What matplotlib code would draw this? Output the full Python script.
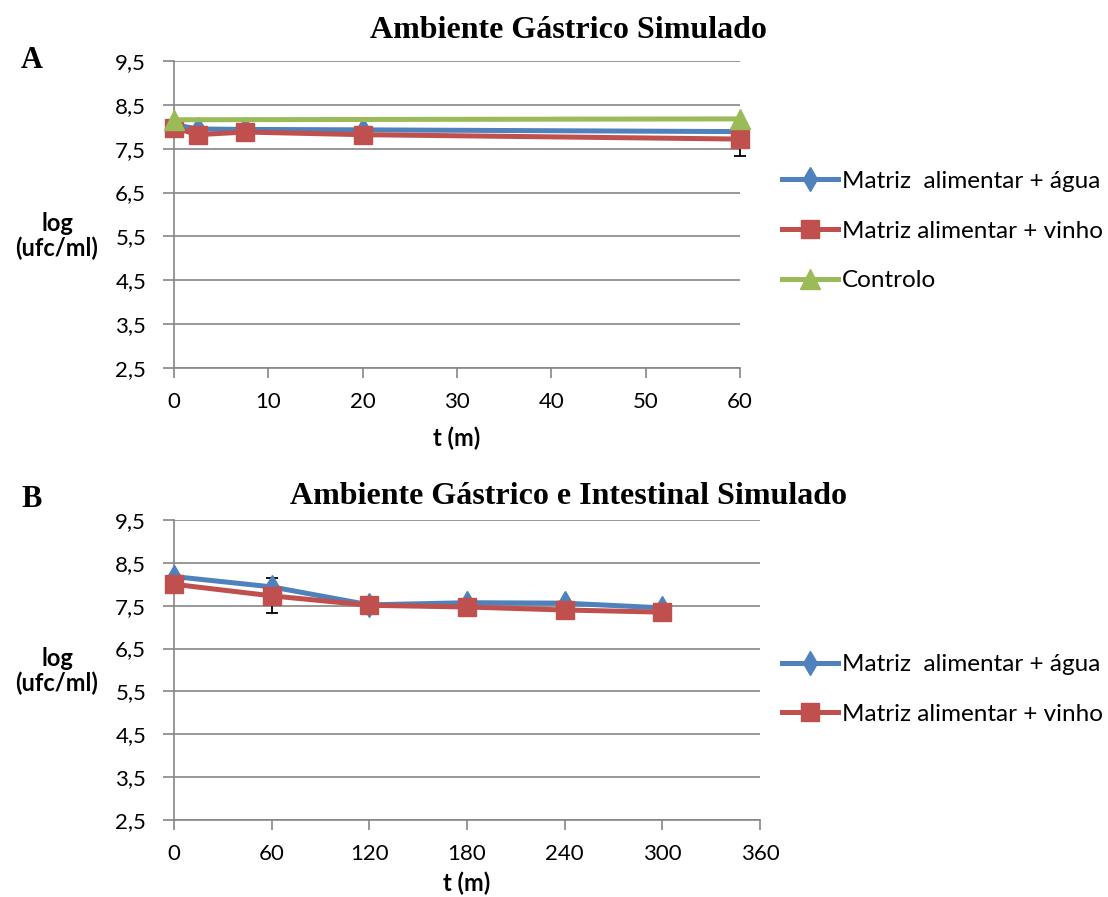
import numpy as np
import matplotlib.pyplot as plt
from matplotlib.lines import Line2D

plt.rcParams['font.family'] = ['Lato', 'DejaVu Sans']

# Painel A - ambiente gastrico
t_a = [0, 2.5, 7.5, 20, 60]
agua_a = [8.05, 7.95, 7.94, 7.93, 7.89]
vinho_a = [7.98, 7.82, 7.88, 7.82, 7.72]
vinho_a_err = [0, 0, 0, 0, 0.38]
t_ctrl = [0, 60]
controlo_a = [8.16, 8.18]

# Painel B - ambiente gastrico e intestinal
t_b = [0, 60, 120, 180, 240, 300]
agua_b = [8.18, 7.94, 7.52, 7.57, 7.56, 7.45]
vinho_b = [8.00, 7.73, 7.51, 7.47, 7.40, 7.35]
vinho_b_err = [0, 0.41, 0, 0, 0, 0]

yticks = [2.5, 3.5, 4.5, 5.5, 6.5, 7.5, 8.5, 9.5]

azul = '#4F81BD'
vermelho = '#C0504D'
verde = '#9BBB59'
cinza = '#868686'

W, H = 1108, 897
fig = plt.figure(figsize=(W/100, H/100), dpi=100)
ax1 = fig.add_axes([174/W, 1-368/H, (740-174)/W, (368-61)/H])
ax2 = fig.add_axes([174/W, 1-820/H, (760-174)/W, (820-520)/H])


def estilo(ax, xticks, ylab_y, xpad, width_px):
    ax.set_ylim(2.5, 9.5)
    ax.set_xlim(xticks[0], xticks[-1])
    ax.set_yticks(yticks)
    ax.set_yticklabels([str(v).replace('.', ',') for v in yticks])
    ax.set_xticks(xticks)
    ax.grid(axis='y', color=cinza, lw=1.2)
    ax.set_axisbelow(True)
    for s in ['top', 'right']:
        ax.spines[s].set_visible(False)
    for s in ['left', 'bottom']:
        ax.spines[s].set_color(cinza)
        ax.spines[s].set_linewidth(1.2)
    ax.tick_params(direction='out', length=7, width=1.2, color=cinza,
                   labelsize=16)
    ax.tick_params(axis='x', pad=10.5)
    ax.tick_params(axis='y', pad=12, length=8)
    ax.set_xlabel('t (m)', fontsize=17, fontweight='bold', labelpad=xpad)
    ax.set_ylabel('log\n(ufc/ml)', fontsize=17, fontweight='bold',
                  rotation=0, ha='center', va='center', linespacing=1.1)
    ax.yaxis.set_label_coords((57 - 174) / width_px, ylab_y)


def serie(ax, x, y, cor, marca, ms, rot):
    ax.plot(x, y, color=cor, lw=3.6, marker=marca, ms=ms, label=rot,
            clip_on=False, zorder=3)


# Painel A
ax1.errorbar(t_a, vinho_a, yerr=vinho_a_err, fmt='none', ecolor='black',
             elinewidth=1.3, capsize=4, capthick=1.3, clip_on=False, zorder=2)
serie(ax1, t_a, agua_a, azul, 'd', 12, 'Matriz  alimentar + água')
serie(ax1, t_a, vinho_a, vermelho, 's', 13, 'Matriz alimentar + vinho')
serie(ax1, t_ctrl, controlo_a, verde, '^', 14, 'Controlo')
estilo(ax1, [0, 10, 20, 30, 40, 50, 60], 0.43, 10.5, 740 - 174)

# Painel B
ax2.errorbar(t_b, vinho_b, yerr=vinho_b_err, fmt='none', ecolor='black',
             elinewidth=1.3, capsize=4, capthick=1.3, clip_on=False, zorder=2)
serie(ax2, t_b, agua_b, azul, 'd', 12, 'Matriz  alimentar + água')
serie(ax2, t_b, vinho_b, vermelho, 's', 13, 'Matriz alimentar + vinho')
estilo(ax2, [0, 60, 120, 180, 240, 300, 360], 0.497, 5.5, 760 - 174)

# legendas
h1 = [Line2D([], [], color=azul, lw=3.6, marker='d', ms=12),
      Line2D([], [], color=vermelho, lw=3.6, marker='s', ms=13),
      Line2D([], [], color=verde, lw=3.6, marker='^', ms=14)]
lab = ['Matriz  alimentar + água', 'Matriz alimentar + vinho', 'Controlo']
kw = dict(frameon=False, fontsize=17.5, handlelength=2.3, handletextpad=0.17,
          labelspacing=1.18, borderpad=0, borderaxespad=0, loc='center left')
fig.legend(h1, lab, bbox_to_anchor=(782/W, 1-231/H), **kw)
fig.legend(h1[:2], lab[:2], bbox_to_anchor=(782/W, 1-689.5/H), **kw)

# titulos
serif = dict(fontweight='bold', family='Liberation Serif', va='center',
             ha='center')
fig.text(568/W, 1-31/H, 'Ambiente Gástrico Simulado', fontsize=23, **serif)
fig.text(568/W, 1-496/H, 'Ambiente Gástrico e Intestinal Simulado',
         fontsize=23, **serif)
fig.text(32/W, 1-61/H, 'A', fontsize=22, **serif)
fig.text(32/W, 1-499/H, 'B', fontsize=22, **serif)

fig.savefig('out.png', dpi=100)
